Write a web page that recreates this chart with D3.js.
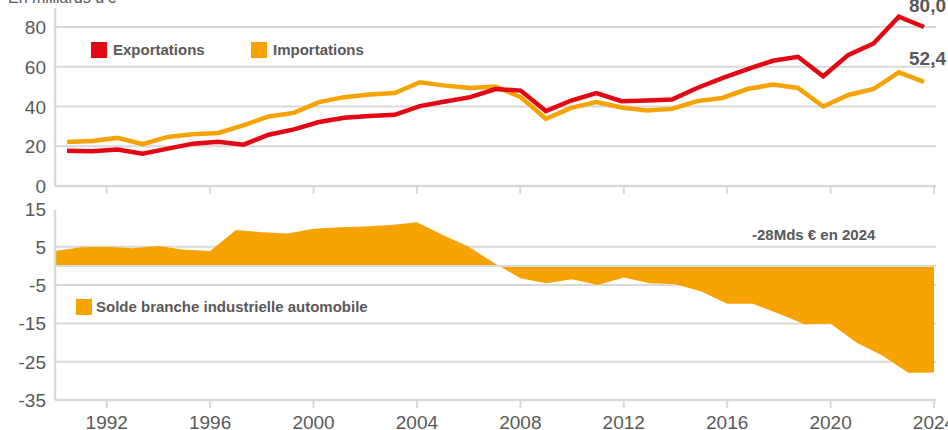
<!DOCTYPE html>
<html>
<head>
<meta charset="utf-8">
<script src="https://cdn.jsdelivr.net/npm/d3@7"></script>
<style>
	body { margin: 0; background: #fff; }
	svg text { font-family: "Liberation Sans", Arial, sans-serif; fill: #595959; }
</style>
</head>
<body>
<div id="chart"></div>
<script>
'use strict'
var years = [1990, 1991, 1992, 1993, 1994, 1995, 1996, 1997, 1998, 1999,
	2000, 2001, 2002, 2003, 2004, 2005, 2006, 2007, 2008, 2009,
	2010, 2011, 2012, 2013, 2014, 2015, 2016, 2017, 2018, 2019,
	2020, 2021, 2022, 2023, 2024];
var exportations = [17.7, 17.5, 18.3, 16.3, 18.8, 21.3, 22.2, 20.8, 25.8, 28.5,
	32.2, 34.3, 35.2, 35.8, 40.2, 42.5, 44.7, 48.8, 48.0, 37.7,
	43.0, 46.7, 42.7, 43.0, 43.5, 49.3, 54.3, 58.8, 63.0, 65.0,
	55.2, 66.0, 71.7, 85.2, 80.0];
var importations = [22.2, 22.7, 24.2, 21.0, 24.7, 26.0, 26.7, 30.5, 35.0, 36.8,
	42.2, 44.7, 46.0, 46.8, 52.2, 50.5, 49.3, 50.0, 44.7, 33.8,
	39.3, 42.2, 39.5, 38.0, 38.8, 42.7, 44.3, 48.8, 51.0, 49.3,
	40.0, 45.8, 48.8, 57.2, 52.4];
var solde = [3.9, 4.9, 5.0, 4.6, 5.2, 4.2, 3.9, 9.4, 8.8, 8.5,
	9.7, 10.1, 10.3, 10.7, 11.4, 8.1, 5.0, 0.7, -3.2, -4.5,
	-3.5, -5.0, -3.0, -4.5, -4.8, -6.7, -9.9, -9.9, -12.5, -15.2,
	-15.1, -20.0, -23.4, -27.9, -27.8];
var yearTicks = [1992, 1996, 2000, 2004, 2008, 2012, 2016, 2020, 2024];
var topTicks = [0, 20, 40, 60, 80];
var bottomTicks = [15, 5, -5, -15, -25, -35];
var legendTop = ["Exportations", "Importations"];
var legendBottom = "Solde branche industrielle automobile";
var unitLabel = "En milliards d'€";
var endLabels = ["80,0", "52,4"];
var soldeNote = "-28Mds € en 2024";

var RED = "#e30613", ORANGE = "#f6a300", GRID = "#d9d9d9";
var w = 948, h = 430;

var svg = d3.select("#chart").append("svg")
	.attr("width", w).attr("height", h);

var x = d3.scaleLinear().domain([1990, 2024]).range([55, 934]);
// les courbes du haut sont un peu rentrées par rapport à l'axe
var xLine = d3.scaleLinear().domain([1990, 2024]).range([67, 924]);
var yTop = d3.scaleLinear().domain([0, 80]).range([186, 27]);
var yBot = d3.scaleLinear().domain([-35, 15]).range([400, 208.5]);

// ---- panneau du haut
svg.append("text").attr("x", 8).attr("y", 3)
	.style("font-size", "16px").text(unitLabel);

svg.append("g").selectAll("line.grid")
	.data(topTicks.filter(function(d){ return d > 0; }))
	.enter().append("line")
	.attr("x1", x(1990)).attr("x2", 936)
	.attr("y1", function(d){ return yTop(d); })
	.attr("y2", function(d){ return yTop(d); })
	.style("stroke", GRID).style("stroke-width", 2);

function drawXAxis(y0) {
	svg.append("line").attr("x1", x(1990)).attr("x2", 936)
		.attr("y1", y0).attr("y2", y0)
		.style("stroke", GRID).style("stroke-width", 2.5);
	svg.append("g").selectAll("line")
		.data(yearTicks)
		.enter().append("line")
		.attr("x1", function(d){ return x(d); })
		.attr("x2", function(d){ return x(d); })
		.attr("y1", y0).attr("y2", y0 + 8)
		.style("stroke", GRID).style("stroke-width", 2);
}
drawXAxis(yTop(0));
svg.append("line").attr("x1", x(1990)).attr("x2", x(1990))
	.attr("y1", 8).attr("y2", yTop(0))
	.style("stroke", GRID).style("stroke-width", 2.5);

svg.append("g").selectAll("text")
	.data(topTicks)
	.enter().append("text")
	.attr("x", 46).attr("y", function(d){ return yTop(d) + 7; })
	.attr("text-anchor", "end")
	.style("font-size", "19px")
	.text(function(d){ return d; });

var line = d3.line()
	.x(function(d, i){ return xLine(years[i]); })
	.y(function(d){ return yTop(d); });

[[importations, ORANGE], [exportations, RED]].forEach(function(s){
	svg.append("path").datum(s[0])
		.attr("d", line)
		.style("fill", "none")
		.style("stroke", s[1])
		.style("stroke-width", 4.5)
		.style("stroke-linejoin", "miter");
});

svg.append("text").attr("x", 946).attr("y", 12)
	.attr("text-anchor", "end")
	.style("font-size", "19px").style("font-weight", "bold")
	.text(endLabels[0]);
svg.append("text").attr("x", 946).attr("y", 65)
	.attr("text-anchor", "end")
	.style("font-size", "19px").style("font-weight", "bold")
	.text(endLabels[1]);

var legend = svg.append("g");
[[legendTop[0], RED, 91], [legendTop[1], ORANGE, 251]].forEach(function(l){
	legend.append("rect").attr("x", l[2]).attr("y", 42)
		.attr("width", 16).attr("height", 16).style("fill", l[1]);
	legend.append("text").attr("x", l[2] + 22).attr("y", 55)
		.style("font-size", "15px").style("font-weight", "bold")
		.text(l[0]);
});

// ---- panneau du bas
svg.append("g").selectAll("line.grid")
	.data([5, -5, -15, -25])
	.enter().append("line")
	.attr("x1", x(1990)).attr("x2", 936)
	.attr("y1", function(d){ return yBot(d); })
	.attr("y2", function(d){ return yBot(d); })
	.style("stroke", GRID).style("stroke-width", 2);

var area = d3.area()
	.x(function(d, i){ return x(years[i]); })
	.y0(yBot(0))
	.y1(function(d){ return yBot(d); });
svg.append("path").datum(solde)
	.attr("d", area)
	.style("fill", ORANGE);

svg.append("line").attr("x1", x(1990)).attr("x2", 936)
	.attr("y1", yBot(0)).attr("y2", yBot(0))
	.style("stroke", GRID).style("stroke-width", 2);

drawXAxis(yBot(-35));
svg.append("line").attr("x1", x(1990)).attr("x2", x(1990))
	.attr("y1", 210).attr("y2", yBot(-35))
	.style("stroke", GRID).style("stroke-width", 2.5);

svg.append("g").selectAll("text")
	.data(bottomTicks)
	.enter().append("text")
	.attr("x", 46).attr("y", function(d){ return yBot(d) + 7; })
	.attr("text-anchor", "end")
	.style("font-size", "19px")
	.text(function(d){ return d; });

svg.append("g").selectAll("text")
	.data(yearTicks)
	.enter().append("text")
	.attr("x", function(d){ return x(d); }).attr("y", 429)
	.attr("text-anchor", "middle")
	.style("font-size", "19px")
	.text(function(d){ return d; });

svg.append("rect").attr("x", 76).attr("y", 299)
	.attr("width", 16).attr("height", 16).style("fill", ORANGE);
svg.append("text").attr("x", 96).attr("y", 312)
	.style("font-size", "15px").style("font-weight", "bold")
	.text(legendBottom);

svg.append("text").attr("x", 752).attr("y", 240)
	.style("font-size", "15px").style("font-weight", "bold")
	.text(soldeNote);
</script>
</body>
</html>
